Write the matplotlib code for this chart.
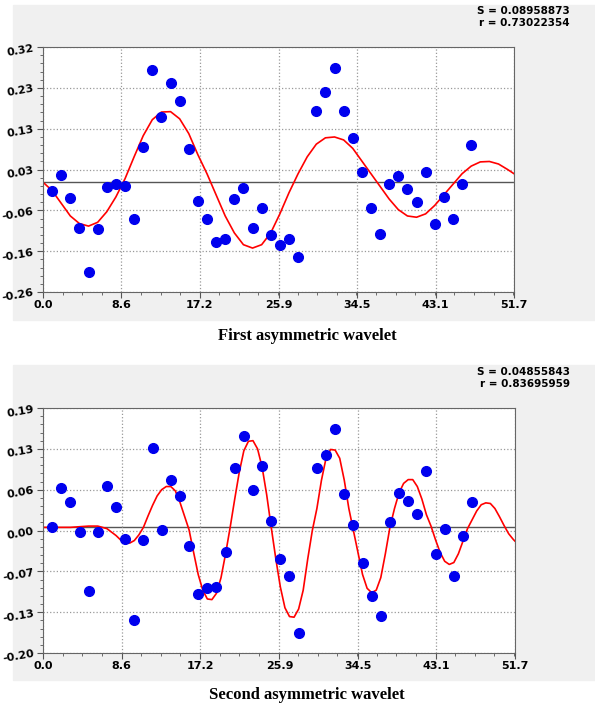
import numpy as np
import matplotlib.pyplot as plt
from matplotlib.patches import Rectangle
from matplotlib.ticker import AutoMinorLocator

# data points, x = 1..47 (29 missing)
pts_x = [i for i in range(1, 48) if i != 29]
top_y = [-0.021, 0.017, -0.037, -0.108, -0.213, -0.111, -0.012, -0.004, -0.009, -0.087,
         0.084, 0.265, 0.155, 0.235, 0.192, 0.078, -0.044, -0.087, -0.141, -0.135,
         -0.040, -0.014, -0.108, -0.061, -0.126, -0.149, -0.134, -0.177,
         0.168, 0.214, 0.270, 0.168, 0.105, 0.023, -0.061, -0.122, -0.004, 0.015,
         -0.016, -0.046, 0.024, -0.098, -0.036, -0.086, -0.004, 0.088]
bot_y = [0.0, 0.062, 0.040, -0.007, -0.102, -0.007, 0.066, 0.033, -0.019, -0.147,
         -0.020, 0.126, -0.004, 0.075, 0.050, -0.029, -0.106, -0.096, -0.095, -0.039,
         0.095, 0.146, 0.059, 0.098, 0.010, -0.051, -0.078, -0.168,
         0.094, 0.115, 0.157, 0.053, 0.003, -0.057, -0.110, -0.141, 0.009, 0.054,
         0.042, 0.021, 0.089, -0.043, -0.002, -0.078, -0.014, 0.040]

top_cx = list(range(0, 52)) + [51.7]
top_cy = [0.0, -0.02, -0.05, -0.08, -0.098, -0.104, -0.095, -0.07, -0.035, 0.008,
          0.06, 0.11, 0.148, 0.166, 0.167, 0.15, 0.115, 0.065, 0.02, -0.03,
          -0.08, -0.12, -0.148, -0.156, -0.148, -0.12, -0.075, -0.025, 0.02, 0.06,
          0.09, 0.105, 0.107, 0.1, 0.08, 0.05, 0.02, -0.01, -0.04, -0.065,
          -0.08, -0.083, -0.075, -0.055, -0.03, -0.005, 0.02, 0.038, 0.048, 0.049,
          0.043, 0.03, 0.02]

bot_cx = [0, 1, 2, 3, 4, 5, 6, 7, 8, 8.5, 9, 9.5, 10, 10.5, 11, 11.5, 12, 12.5, 13, 13.5,
          14, 14.5, 15, 15.5, 16, 16.5, 17, 17.5, 18, 18.5, 19, 19.5, 20, 20.5, 21, 21.5,
          22, 22.5, 23, 23.5, 24, 24.5, 25, 25.5, 26, 26.5, 27, 27.5, 28, 28.5, 29, 29.5,
          30, 30.5, 31, 31.5, 32, 32.5, 33, 33.5, 34, 34.5, 35, 35.5, 36, 36.5, 37, 37.5,
          38, 38.5, 39, 39.5, 40, 40.5, 41, 41.5, 42, 42.5, 43, 43.5, 44, 44.5, 45, 45.5,
          46, 46.5, 47, 47.5, 48, 48.5, 49, 49.5, 50, 50.5, 51, 51.5, 51.7]
bot_cy = [0.0, 0.0, 0.0, 0.0, 0.001, 0.002, 0.002, -0.002, -0.013, -0.02, -0.024, -0.025,
          -0.021, -0.012, 0.0, 0.018, 0.035, 0.05, 0.06, 0.065,
          0.065, 0.058, 0.04, 0.018, -0.004, -0.04, -0.075, -0.1, -0.114, -0.115,
          -0.105, -0.08, -0.042, 0.0, 0.045, 0.088, 0.122, 0.137, 0.138, 0.125,
          0.096, 0.052, 0.0, -0.05, -0.095, -0.128, -0.142, -0.143, -0.13, -0.1,
          -0.05, -0.005, 0.03, 0.075, 0.11, 0.124, 0.123, 0.11, 0.075, 0.03,
          -0.005, -0.04, -0.075, -0.097, -0.104, -0.1, -0.08, -0.042, 0.0, 0.03,
          0.055, 0.07, 0.076, 0.076, 0.065, 0.045, 0.02, 0.002, -0.02, -0.04,
          -0.054, -0.059, -0.056, -0.042, -0.022, -0.002, 0.012, 0.026, 0.036, 0.039,
          0.038, 0.03, 0.017, 0.003, -0.01, -0.019, -0.022]

x_ticks = [0.0, 8.6, 17.2, 25.9, 34.5, 43.1, 51.7]
top_ticks = ["-0.26", "-0.16", "-0.06", "0.03", "0.13", "0.23", "0.32"]
bot_ticks = ["-0.20", "-0.13", "-0.07", "0.00", "0.06", "0.13", "0.19"]

W, H = 595, 710
fig = plt.figure(figsize=(W / 100, H / 100), dpi=100, facecolor="white")

def px(l, t, r, b):
    return [l / W, 1 - b / H, (r - l) / W, (b - t) / H]

for (y0, y1) in [(5, 320), (365, 680)]:
    fig.patches.append(Rectangle((13 / W, 1 - y1 / H), (W - 13) / W, (y1 - y0) / H,
                                 transform=fig.transFigure, color="#f0f0f0", zorder=-5))

def panel(rect, ys, cx, cy, ylo, yhi, labels, s, r, title, ty, sy):
    ax = fig.add_axes(px(*rect))
    ax.set_facecolor("white")
    ax.set_xlim(0, 51.7)
    ax.set_ylim(ylo, yhi)
    ax.set_xticks(x_ticks)
    ax.set_xticklabels([f"{v:.1f}" for v in x_ticks], fontweight="bold", fontsize=8)
    yt = np.linspace(ylo, yhi, 7)
    ax.set_yticks(yt)
    ax.set_yticklabels(labels, fontweight="bold", fontsize=8, rotation=10)
    ax.xaxis.set_minor_locator(AutoMinorLocator(4))
    ax.yaxis.set_minor_locator(AutoMinorLocator(5))
    ax.tick_params(which="both", direction="out", length=4, color="#555555", pad=2)
    ax.tick_params(which="minor", length=2.5)
    ax.grid(True, which="major", linestyle=":", color="#999999", linewidth=0.9)
    for sp in ax.spines.values():
        sp.set_color("#666666")
    ax.axhline(0, color="#555555", linewidth=1.0, zorder=1)
    ax.plot(cx, cy, color="#ff0000", linewidth=1.2, zorder=2)
    ax.plot(pts_x, ys, "o", color="#0000ee", markersize=7, zorder=3, clip_on=False)
    fig.text(570 / W, 1 - sy / H, f"S = {s}\nr = {r}", ha="right", va="top",
             fontsize=7.5, fontweight="bold", linespacing=1.2)
    fig.text(307 / W, 1 - ty / H, title, ha="center", va="center", fontsize=12,
             fontweight="bold", family="Liberation Serif")

panel((43, 47, 514, 292), top_y, top_cx, top_cy, -0.26, 0.32, top_ticks,
      "0.08958873", "0.73022354", "First asymmetric wavelet", 336, 6)
panel((43, 408, 515, 653), bot_y, bot_cx, bot_cy, -0.20, 0.19, bot_ticks,
      "0.04855843", "0.83695959", "Second asymmetric wavelet", 695, 367)

fig.savefig("out.png", dpi=100, facecolor=fig.get_facecolor())
